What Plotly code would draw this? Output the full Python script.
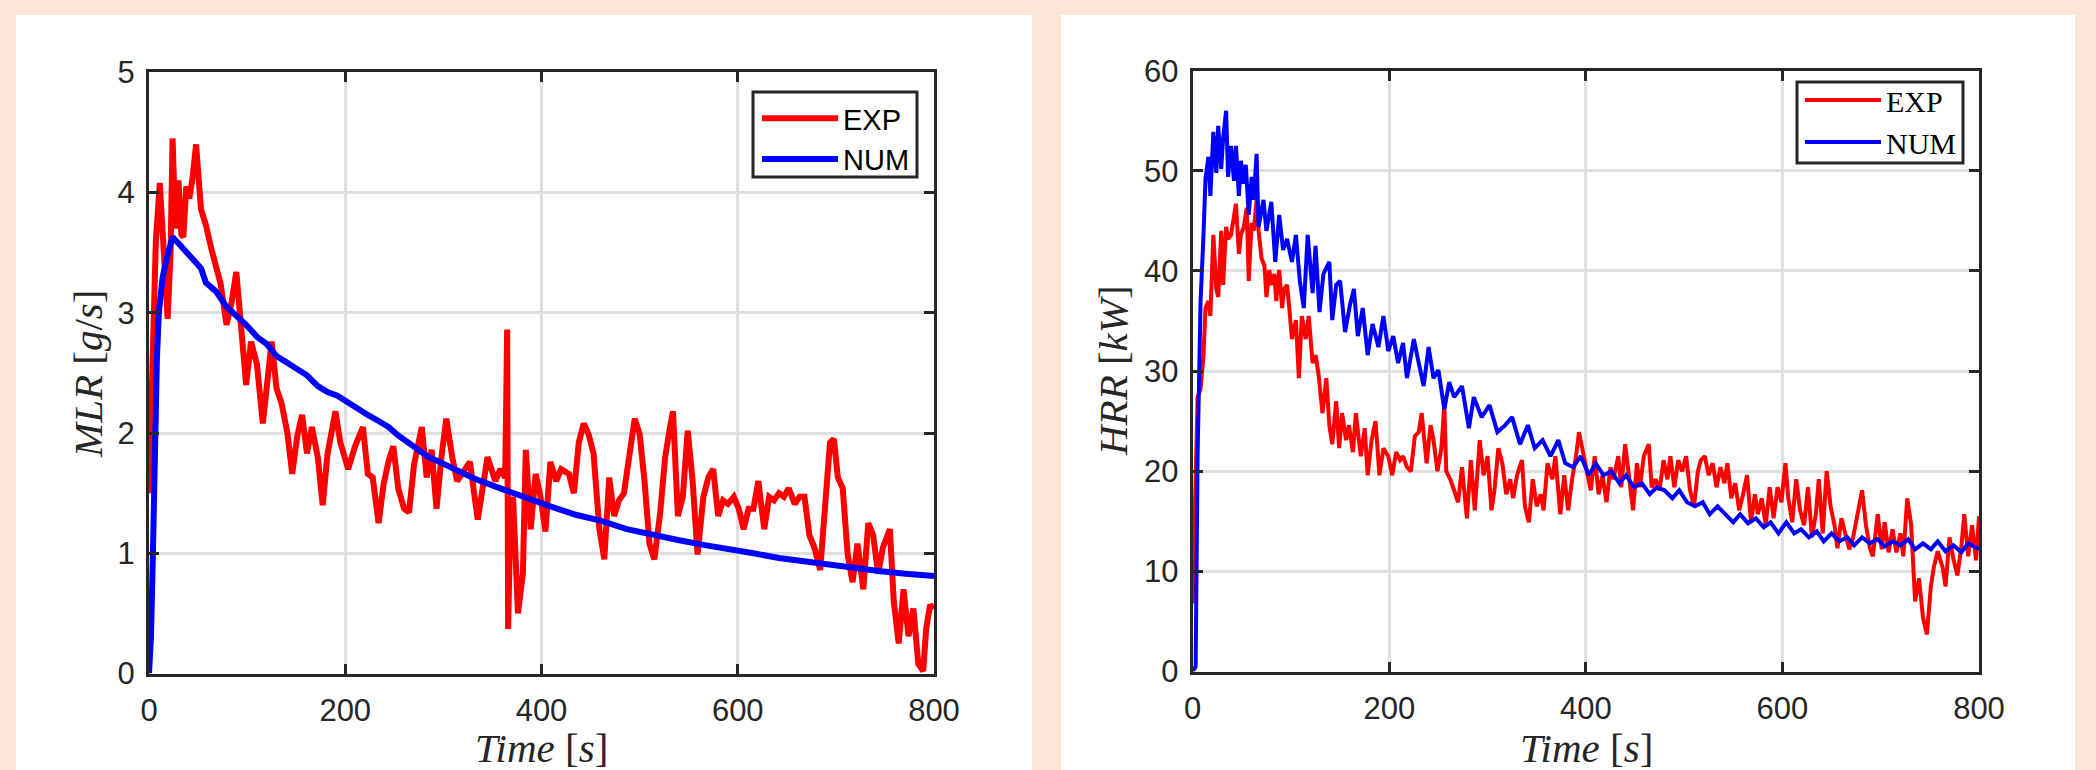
import plotly.graph_objects as go

W, H = 2096, 770

# ---------------- data: left panel (MLR) ----------------
mlr_exp_t = [0, 3, 7, 11, 15, 19, 22, 24, 27, 30, 33, 35, 38, 41, 44, 48, 53, 58, 63, 68, 73, 79, 84, 89, 94, 99,
             104, 110, 116, 122, 125, 130, 135, 141, 146, 151, 156, 161, 166, 172, 177, 182, 190, 195, 203, 210,
             218, 223, 228, 234, 239, 244, 249, 254, 260, 265, 270, 278, 283, 288, 293, 298, 303, 309, 314, 319,
             327, 335, 340, 345, 353, 358, 363, 365, 366, 368, 371, 376, 381, 384, 389, 394, 399, 404, 409, 415,
             420, 428, 433, 438, 443, 448, 453, 459, 464, 469, 474, 479, 484, 490, 495, 500, 505, 510, 515, 521,
             526, 531, 534, 539, 544, 549, 554, 559, 565, 570, 575, 580, 585, 590, 596, 601, 606, 611, 616, 621,
             627, 632, 637, 642, 647, 652, 658, 663, 668, 673, 678, 684, 689, 694, 698, 702, 707, 712, 717, 722,
             728, 733, 738, 743, 748, 755, 759, 764, 769, 774, 779, 784, 789, 792, 796, 800]
mlr_exp = [1.50, 2.60, 3.60, 4.08, 3.40, 2.95, 3.50, 4.45, 3.70, 4.10, 3.65, 3.63, 4.05, 3.95, 4.10, 4.40, 3.86,
           3.73, 3.55, 3.40, 3.24, 2.90, 3.08, 3.34, 2.90, 2.40, 2.76, 2.57, 2.08, 2.50, 2.76, 2.37, 2.25, 2.00,
           1.66, 1.97, 2.15, 1.83, 2.05, 1.80, 1.40, 1.83, 2.18, 1.92, 1.70, 1.89, 2.05, 1.66, 1.63, 1.25, 1.57,
           1.76, 1.89, 1.54, 1.37, 1.34, 1.73, 2.05, 1.63, 1.86, 1.37, 1.80, 2.12, 1.80, 1.60, 1.66, 1.76, 1.28,
           1.54, 1.80, 1.60, 1.70, 1.63, 2.86, 0.37, 1.20, 1.47, 0.50, 0.83, 1.86, 1.20, 1.66, 1.47, 1.18, 1.76,
           1.60, 1.70, 1.66, 1.50, 1.92, 2.08, 1.99, 1.83, 1.20, 0.95, 1.63, 1.31, 1.44, 1.50, 1.80, 2.12, 1.99,
           1.60, 1.08, 0.95, 1.34, 1.80, 2.05, 2.18, 1.31, 1.47, 2.02, 1.60, 0.99, 1.47, 1.63, 1.70, 1.31, 1.44,
           1.41, 1.47, 1.37, 1.20, 1.37, 1.37, 1.60, 1.20, 1.47, 1.44, 1.50, 1.47, 1.54, 1.41, 1.47, 1.47, 1.15,
           1.05, 0.86, 1.47, 1.92, 1.95, 1.63, 1.54, 0.99, 0.76, 1.08, 0.70, 1.25, 1.15, 0.83, 1.05, 1.20, 0.60,
           0.25, 0.70, 0.31, 0.54, 0.08, 0.02, 0.37, 0.57, 0.54]

mlr_num_t = [0, 2, 4, 6, 8, 10, 14, 18, 24, 32, 42, 53, 58, 68, 79, 89, 99, 110, 120, 130, 141, 151, 161, 172,
             182, 192, 203, 213, 223, 234, 244, 254, 265, 275, 285, 296, 306, 316, 332, 358, 384, 409, 435, 461,
             487, 513, 539, 565, 590, 616, 642, 668, 694, 720, 746, 771, 800]
mlr_num = [0.0, 0.3, 1.0, 1.9, 2.6, 3.0, 3.3, 3.45, 3.63, 3.56, 3.47, 3.37, 3.25, 3.18, 3.05, 2.98, 2.90, 2.80,
           2.74, 2.64, 2.58, 2.53, 2.48, 2.39, 2.34, 2.31, 2.25, 2.21, 2.15, 2.10, 2.05, 1.98, 1.92, 1.86, 1.80,
           1.76, 1.72, 1.68, 1.62, 1.54, 1.46, 1.39, 1.32, 1.27, 1.20, 1.15, 1.11, 1.07, 1.03, 1.00, 0.96, 0.93,
           0.90, 0.87, 0.85, 0.83, 0.81]

# ---------------- data: right panel (HRR) ----------------
hrr_exp_t = [0, 3, 5, 8, 11, 13, 16, 18, 21, 24, 26, 29, 31, 34, 36, 39, 42, 44, 47, 49, 52, 55, 57, 60, 62, 65,
             67, 70, 73, 75, 78, 80, 83, 85, 88, 91, 93, 96, 98, 101, 105, 108, 111, 115, 118, 122, 125, 128, 132,
             136, 139, 142, 146, 149, 152, 156, 159, 163, 166, 171, 175, 178, 182, 186, 190, 194, 199, 203, 207,
             211, 214, 218, 222, 226, 230, 233, 238, 242, 245, 249, 253, 256, 258, 262, 266, 270, 274, 279, 283,
             287, 292, 296, 300, 304, 307, 311, 315, 319, 323, 326, 330, 335, 338, 342, 346, 350, 354, 357, 361,
             366, 369, 374, 378, 382, 386, 390, 393, 397, 402, 405, 409, 413, 417, 421, 425, 428, 433, 436, 440,
             444, 448, 452, 455, 459, 464, 467, 471, 475, 479, 483, 486, 490, 494, 498, 502, 506, 510, 514, 517,
             521, 525, 529, 533, 537, 541, 544, 548, 552, 556, 560, 564, 568, 572, 575, 579, 583, 587, 591, 595,
             599, 603, 606, 610, 614, 618, 622, 626, 630, 634, 637, 641, 645, 649, 653, 656, 660, 664, 668, 672,
             676, 681, 685, 689, 692, 697, 701, 704, 708, 712, 716, 720, 723, 727, 731, 735, 739, 743, 747, 751,
             754, 758, 763, 766, 770, 774, 778, 782, 785, 789, 793, 797, 800]
hrr_exp = [6.8, 17.7, 27.4, 28.2, 31.6, 36.3, 37.0, 35.5, 43.6, 38.2, 37.4, 44.0, 38.6, 44.4, 43.2, 43.6, 45.6,
           46.7, 41.7, 43.6, 44.4, 46.3, 39.0, 44.8, 44.0, 47.1, 44.0, 41.3, 40.5, 37.4, 40.1, 38.6, 39.7, 37.0,
           40.1, 36.3, 38.2, 38.6, 36.6, 33.2, 35.1, 29.3, 35.5, 33.2, 35.5, 30.8, 31.6, 29.7, 25.8, 29.3, 24.6,
           22.7, 27.0, 22.3, 25.8, 23.1, 24.6, 21.9, 25.8, 21.5, 24.3, 19.6, 23.1, 25.0, 19.6, 22.3, 21.5, 19.6,
           21.9, 21.1, 21.5, 20.4, 20.0, 23.5, 23.9, 25.8, 20.8, 24.6, 23.1, 20.0, 22.3, 26.6, 20.0, 19.2, 18.1,
           16.9, 20.4, 15.3, 21.1, 16.1, 23.1, 19.6, 21.5, 16.1, 18.1, 22.3, 20.8, 17.7, 19.2, 17.3, 19.6, 21.1,
           16.5, 14.9, 19.2, 16.5, 17.7, 16.1, 20.8, 19.2, 21.5, 15.7, 19.6, 16.1, 19.2, 21.5, 23.9, 21.9, 19.2,
           18.1, 21.5, 17.7, 19.6, 16.9, 20.4, 19.2, 21.5, 18.4, 22.7, 19.2, 16.1, 20.8, 18.4, 21.5, 22.7, 18.4,
           19.2, 18.1, 21.1, 19.2, 21.5, 18.4, 21.1, 20.0, 21.5, 18.1, 16.5, 20.0, 21.1, 21.5, 19.6, 20.8, 18.4,
           20.4, 18.8, 20.8, 17.3, 18.8, 16.1, 17.7, 19.6, 14.9, 17.7, 15.7, 17.3, 14.6, 18.4, 15.3, 18.4, 16.9,
           20.8, 17.3, 14.9, 19.2, 16.1, 14.6, 18.4, 13.4, 15.7, 19.2, 13.8, 20.0, 16.5, 14.6, 12.3, 15.3, 13.8,
           12.2, 13.4, 15.3, 18.1, 14.6, 12.3, 11.5, 15.7, 12.2, 14.9, 11.9, 14.2, 11.9, 13.8, 11.5, 17.3, 14.6,
           7.0, 9.3, 5.4, 3.7, 8.5, 10.4, 12.0, 10.4, 8.5, 13.4, 11.2, 9.6, 12.4, 15.7, 11.5, 14.6, 11.1, 15.5]

hrr_num_t = [0, 3, 5, 8, 11, 13, 16, 18, 21, 24, 26, 29, 31, 34, 36, 39, 42, 44, 47, 49, 52, 54, 57, 60, 62, 65,
             67, 72, 75, 80, 84, 88, 92, 96, 101, 105, 109, 113, 117, 122, 125, 129, 133, 139, 142, 146, 150, 155,
             160, 164, 168, 173, 178, 183, 189, 194, 199, 204, 209, 214, 218, 225, 230, 235, 240, 245, 250, 256,
             261, 266, 274, 281, 286, 294, 302, 310, 318, 325, 333, 341, 348, 356, 364, 372, 379, 387, 395, 403,
             410, 418, 426, 434, 441, 449, 457, 465, 472, 480, 488, 495, 503, 511, 519, 526, 534, 542, 550, 557,
             565, 573, 581, 588, 596, 604, 612, 619, 627, 635, 642, 650, 658, 666, 673, 681, 689, 697, 704, 712,
             720, 728, 735, 743, 751, 758, 766, 774, 782, 789, 800]
hrr_num = [0.0, 0.5, 21.6, 37.0, 43.6, 49.2, 51.4, 47.5, 53.9, 49.8, 54.5, 50.2, 53.3, 56.0, 49.4, 52.5, 49.0,
           52.5, 47.5, 51.0, 48.7, 50.6, 45.6, 49.4, 47.1, 51.7, 44.4, 47.1, 44.0, 46.9, 40.9, 45.6, 42.1, 43.2,
           40.9, 43.6, 39.0, 36.3, 43.6, 37.8, 42.5, 35.9, 39.7, 40.9, 35.1, 38.6, 39.0, 33.9, 36.6, 38.2, 33.5,
           36.3, 31.6, 34.7, 32.4, 35.5, 32.0, 33.5, 30.8, 32.8, 29.3, 33.2, 30.8, 28.5, 32.4, 29.3, 30.1, 26.2,
           28.9, 27.4, 28.5, 24.3, 27.4, 25.4, 26.6, 23.9, 24.6, 25.4, 22.7, 24.6, 22.3, 23.1, 21.5, 23.1, 20.8,
           20.4, 21.5, 19.6, 20.8, 19.6, 20.0, 18.8, 19.6, 18.4, 18.8, 17.7, 18.4, 18.1, 17.3, 18.1, 16.9, 16.5,
           16.9, 15.7, 16.5, 15.7, 14.9, 15.7, 14.8, 15.3, 14.4, 14.9, 13.8, 14.9, 13.8, 14.2, 13.4, 14.0, 13.0,
           13.8, 13.0, 13.4, 12.6, 13.4, 12.8, 13.2, 12.5, 13.0, 12.6, 13.2, 12.2, 12.8, 12.2, 13.0, 12.0, 12.6,
           11.9, 12.8, 12.2]

x_ticks = [0, 200, 400, 600, 800]
mlr_ticks = [0, 1, 2, 3, 4, 5]
hrr_ticks = [0, 10, 20, 30, 40, 50, 60]
series_names = ["EXP", "NUM"]
colors = ["#FF0000", "#0000FF"]

# ---------------- layout helpers (pixel -> paper) ----------------
def px(x):
    return x / W

def py(y):
    return (H - y) / H

BG = "#FBE5D6"
AX = "#262626"
GRID = "#DFDFDF"
tick_font = dict(family="Liberation Sans, Arial, sans-serif", size=31, color=AX)
serif = "Liberation Serif, Times New Roman, serif"

fig = go.Figure()
fig.add_trace(go.Scatter(x=mlr_exp_t, y=mlr_exp, mode="lines", name=series_names[0],
                         line=dict(color=colors[0], width=6), xaxis="x", yaxis="y", legend="legend"))
fig.add_trace(go.Scatter(x=mlr_num_t, y=mlr_num, mode="lines", name=series_names[1],
                         line=dict(color=colors[1], width=6), xaxis="x", yaxis="y", legend="legend"))
fig.add_trace(go.Scatter(x=hrr_exp_t, y=hrr_exp, mode="lines", name=series_names[0],
                         line=dict(color=colors[0], width=4), xaxis="x2", yaxis="y2", legend="legend2"))
fig.add_trace(go.Scatter(x=hrr_num_t, y=hrr_num, mode="lines", name=series_names[1],
                         line=dict(color=colors[1], width=4), xaxis="x2", yaxis="y2", legend="legend2"))

axis_common = dict(showline=True, linecolor=AX, linewidth=3, mirror="ticks", ticks="inside",
                   ticklen=10, tickwidth=3, tickcolor=AX, showgrid=True, gridcolor=GRID, gridwidth=2.5,
                   zeroline=False, tickfont=tick_font)

fig.update_layout(
    width=W, height=H,
    margin=dict(l=0, r=0, t=0, b=0, pad=0, autoexpand=False),
    paper_bgcolor=BG, plot_bgcolor="white",
    xaxis=dict(domain=[px(149), px(934)], range=[0, 800], tickvals=x_ticks, anchor="y",
               ticklabelstandoff=7, **axis_common),
    yaxis=dict(domain=[py(673.5), py(72.3)], range=[0, 5], tickvals=mlr_ticks, anchor="x",
               ticklabelstandoff=5, **axis_common),
    xaxis2=dict(domain=[px(1192.7), px(1979)], range=[0, 800], tickvals=x_ticks, anchor="y2",
                ticklabelstandoff=7, **axis_common),
    yaxis2=dict(domain=[py(671.5), py(70.7)], range=[0, 60], tickvals=hrr_ticks, anchor="x2",
                ticklabelstandoff=5, **axis_common),
    legend=dict(x=px(757), y=py(93), xanchor="left", yanchor="top", bgcolor="rgba(0,0,0,0)",
                borderwidth=0, itemwidth=76,
                font=dict(family="Liberation Sans, Arial, sans-serif", size=29, color="black"),
                tracegroupgap=0),
    legend2=dict(x=px(1800), y=py(74), xanchor="left", yanchor="top", bgcolor="rgba(0,0,0,0)",
                 borderwidth=0, itemwidth=76,
                 font=dict(family=serif, size=30, color="black"),
                 tracegroupgap=0),
    shapes=[
        dict(type="rect", xref="paper", yref="paper", x0=px(16), x1=px(1032), y0=-0.01, y1=py(15),
             fillcolor="white", line=dict(width=0), layer="below"),
        dict(type="rect", xref="paper", yref="paper", x0=px(1061), x1=px(2075), y0=-0.01, y1=py(15),
             fillcolor="white", line=dict(width=0), layer="below"),
        # legend boxes
        dict(type="rect", xref="paper", yref="paper", x0=px(753), x1=px(917), y0=py(177), y1=py(92),
             fillcolor="white", line=dict(width=3, color=AX), layer="above"),
        dict(type="rect", xref="paper", yref="paper", x0=px(1797), x1=px(1963), y0=py(163), y1=py(82),
             fillcolor="white", line=dict(width=3, color=AX), layer="above"),
    ],
    annotations=[
        dict(text="<i>Time</i> [<i>s</i>]", xref="paper", yref="paper", x=px(541), y=py(748),
             xanchor="center", yanchor="middle", showarrow=False,
             font=dict(family=serif, size=41, color=AX)),
        dict(text="<i>Time</i> [<i>s</i>]", xref="paper", yref="paper", x=px(1586), y=py(748),
             xanchor="center", yanchor="middle", showarrow=False,
             font=dict(family=serif, size=41, color=AX)),
        dict(text="<i>MLR</i> [<i>g</i>/<i>s</i>]", xref="paper", yref="paper", x=px(88), y=py(374),
             xanchor="center", yanchor="middle", showarrow=False, textangle=-90,
             font=dict(family=serif, size=41, color=AX)),
        dict(text="<i>HRR</i> [<i>kW</i>]", xref="paper", yref="paper", x=px(1113), y=py(371),
             xanchor="center", yanchor="middle", showarrow=False, textangle=-90,
             font=dict(family=serif, size=41, color=AX)),
    ],
)

fig.write_html("out.html", config={"displayModeBar": False},
               post_script="document.body.style.margin='0';document.body.style.overflow='hidden';")
